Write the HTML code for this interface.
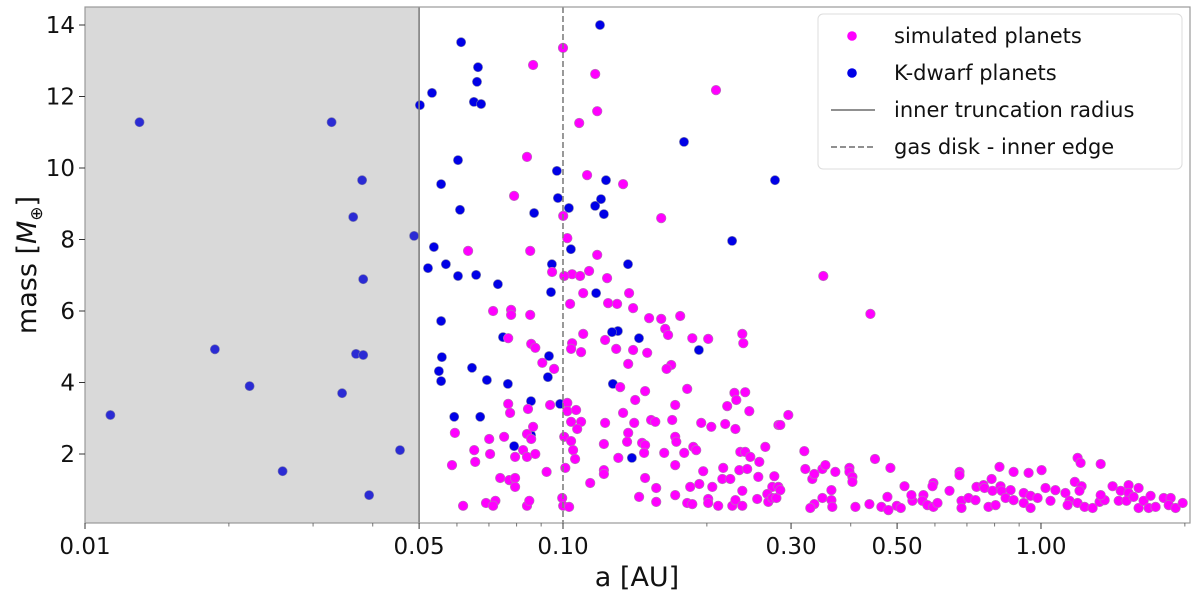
<!DOCTYPE html>
<html><head><meta charset="utf-8">
<style>
html,body{margin:0;padding:0;background:#fff;}
svg{display:block;font-family:"DejaVu Sans","Liberation Sans",sans-serif;}
</style></head>
<body>
<svg id="chart" width="1200" height="599" viewBox="0 0 1200 599" xmlns="http://www.w3.org/2000/svg"></svg>
<script>
const simA = [0.100,0.0866,0.1168,0.209,0.1179,0.1081,0.0841,0.1123,0.1336,0.0790,0.1001,0.1605,0.1021,0.0633,0.0854,0.1179,0.0949,0.1045,0.1086,0.1006,0.1134,0.1237,0.3505,0.4397,0.1102,0.1375,0.1035,0.1243,0.1298,0.1402,0.0714,0.0779,0.0779,0.0854,0.1514,0.1605,0.1759,0.1636,0.1659,0.2372,0.2383,0.1102,0.1045,0.1040,0.1091,0.1225,0.1292,0.1402,0.1500,0.1864,0.2013,0.0768,0.0858,0.0875,0.0905,0.0958,0.1369,0.1684,0.1647,0.1317,0.1485,0.1819,0.2283,0.2405,0.2304,0.1416,0.2206,0.2453,0.2960,0.0768,0.0775,0.0845,0.0940,0.1021,0.1021,0.1065,0.1336,0.1717,0.1040,0.1091,0.1071,0.1225,0.1409,0.1529,0.1560,0.1692,0.1946,0.2043,0.2185,0.2294,0.2822,0.0594,0.0866,0.0841,0.0858,0.1006,0.1040,0.0701,0.0753,0.1369,0.1362,0.1218,0.1464,0.1485,0.1478,0.1717,0.1726,0.1873,0.1900,0.1793,0.1628,0.0652,0.0655,0.0704,0.0794,0.0825,0.0841,0.0875,0.1050,0.1060,0.1305,0.2349,0.2405,0.2465,0.2574,0.2650,0.0586,0.1011,0.0924,0.1218,0.1218,0.1717,0.1965,0.2164,0.2338,0.2429,0.2562,0.2768,0.2741,0.2822,0.0739,0.0772,0.0794,0.0794,0.1140,0.1485,0.1567,0.1846,0.1928,0.2053,0.2154,0.2239,0.2372,0.0618,0.0690,0.0722,0.0714,0.0841,0.0850,0.0996,0.1001,0.1030,0.1443,0.1567,0.1717,0.1819,0.1864,0.2013,0.2013,0.2112,0.2261,0.2294,0.2372,0.2549,0.2676,0.2689,0.2742,0.2795,0.2849,0.2849,0.3198,0.3213,0.3324,0.3356,0.3489,0.3540,0.3713,0.3973,0.3973,0.4031,0.4031,0.3643,0.3489,0.3356,0.3292,0.3643,0.3660,0.4090,0.4376,0.4495,0.4842,0.5181,0.4637,0.4796,0.4993,0.5091,0.4773,0.5383,0.5357,0.5676,0.5649,0.5787,0.5957,0.6073,0.5957,0.5929,0.6436,0.6753,0.6753,0.6819,0.6819,0.7053,0.7295,0.7331,0.7583,0.7619,0.7881,0.8190,0.8763,0.9421,1.003,0.7919,0.8230,0.8270,0.8431,0.8637,0.8763,0.7767,0.8035,0.9201,0.9512,0.9201,0.9512,0.9836,1.022,1.072,1.125,1.148,1.047,1.193,1.210,1.177,1.216,1.204,1.137,1.193,1.234,1.282,1.326,1.359,1.333,1.333,1.412,1.468,1.525,1.600,1.525,1.454,1.510,1.562,1.600,1.639,1.696,1.680,1.737,1.806,1.868,1.850,1.913,1.979];
const simM = [13.36,12.88,12.63,12.18,11.59,11.26,10.31,9.80,9.55,9.22,8.66,8.60,8.04,7.68,7.68,7.57,7.09,7.03,6.98,6.98,7.12,6.92,6.98,5.92,6.50,6.50,6.20,6.22,6.20,6.08,6.00,6.03,5.89,5.89,5.80,5.78,5.86,5.50,5.33,5.36,5.10,5.36,5.10,4.94,4.85,5.19,4.94,4.91,4.83,5.24,5.22,5.24,5.08,4.97,4.55,4.38,4.52,4.49,4.38,3.87,3.76,3.82,3.71,3.73,3.51,3.51,3.34,3.20,3.09,3.40,3.15,3.26,3.37,3.43,3.20,3.23,3.15,3.37,2.90,2.90,2.70,2.87,2.87,2.95,2.90,2.95,2.87,2.76,2.84,2.70,2.81,2.59,2.76,2.56,2.42,2.48,2.36,2.42,2.48,2.59,2.34,2.28,2.31,2.25,2.03,2.48,2.34,2.20,2.11,2.03,2.03,2.11,1.78,2.00,1.92,2.11,1.92,2.00,2.11,1.86,1.89,2.06,2.06,1.92,1.78,2.20,1.69,1.61,1.50,1.55,1.44,1.69,1.52,1.61,1.55,1.58,1.36,1.38,1.08,1.08,1.33,1.27,1.33,1.08,1.19,1.33,1.05,1.08,1.16,1.08,1.30,1.30,0.97,0.55,0.63,0.69,0.55,0.55,0.69,0.77,0.55,0.52,0.80,0.66,0.85,0.63,0.60,0.74,0.63,0.55,0.55,0.71,0.55,0.74,0.88,0.66,0.77,0.77,2.81,0.99,2.08,1.58,1.30,1.44,1.58,1.69,1.50,1.61,1.50,1.36,1.22,0.99,0.77,0.60,0.49,0.71,0.52,0.52,0.60,1.86,1.61,1.10,0.52,0.43,0.55,0.49,0.80,0.69,0.85,0.85,0.69,0.57,0.52,0.63,1.19,1.10,0.97,1.50,1.41,0.69,0.49,0.77,0.71,1.08,1.13,1.05,1.30,1.64,1.50,1.47,1.55,0.97,1.10,0.97,0.77,0.99,0.71,0.52,0.57,0.91,0.83,0.63,0.49,0.77,1.05,0.99,0.91,0.69,0.69,1.89,1.75,1.22,1.10,0.97,0.57,0.63,0.52,0.49,0.66,0.71,0.85,1.72,1.10,0.97,1.13,1.05,0.91,0.69,0.69,0.80,0.49,0.69,0.83,0.49,0.52,0.77,0.77,0.57,0.49,0.63];
const kA = [0.0113,0.0130,0.0187,0.0221,0.0259,0.0328,0.0345,0.0364,0.0369,0.0380,0.0382,0.0382,0.0393,0.0456,0.0488,0.0502,0.0532,0.0612,0.0664,0.0661,0.0651,0.0674,0.1195,0.0556,0.0603,0.0609,0.0537,0.0522,0.0569,0.0603,0.0658,0.0731,0.0870,0.0976,0.0971,0.1029,0.1039,0.0948,0.0944,0.1201,0.1167,0.1230,0.1218,0.1173,0.1368,0.1791,0.2258,0.2777,0.0556,0.0558,0.0550,0.0556,0.0645,0.0693,0.0767,0.0857,0.0592,0.0671,0.0930,0.0935,0.0986,0.0857,0.0790,0.1303,0.1272,0.1394,0.1442,0.1925,0.0749,0.1266];
const kM = [3.09,11.28,4.93,3.90,1.52,11.28,3.70,8.63,4.80,9.66,6.89,4.77,0.85,2.11,8.10,11.76,12.10,13.52,12.82,12.41,11.85,11.79,14.0,9.55,10.22,8.83,7.79,7.20,7.31,6.98,7.01,6.75,8.74,9.16,9.92,8.88,7.73,7.31,6.53,9.13,8.94,9.66,8.71,6.50,7.31,10.73,7.96,9.66,5.72,4.71,4.32,4.04,4.41,4.07,3.96,3.48,3.04,3.04,4.15,4.74,3.40,2.53,2.22,5.44,3.96,1.89,5.24,4.91,5.27,5.41];
const yTicks = [2,4,6,8,10,12,14];
const xTickVals = [0.01,0.05,0.10,0.30,0.50,1.00];
const xTickLabels = ["0.01","0.05","0.10","0.30","0.50","1.00"];
const xMinor = [0.02,0.03,0.04,0.06,0.07,0.08,0.09,0.2,0.4,0.6,0.7,0.8,0.9,2.0];
const innerTrunc = 0.05, gasEdge = 0.10;

const L=85, R=1190, T=7, B=523;
const X0=0.01, XMAX=2.05, Y0=0.0;
function xs(a){return L+(Math.log10(a)-Math.log10(X0))/(Math.log10(XMAX)-Math.log10(X0))*(R-L);}
function ys(m){return 525.5-(m-Y0)*35.75;}

const svg=document.getElementById('chart');
const NS='http://www.w3.org/2000/svg';
function mk(tag,attrs,parent){const e=document.createElementNS(NS,tag);for(const k in attrs)e.setAttribute(k,attrs[k]);(parent||svg).appendChild(e);return e;}

// shaded region first
const sh=mk('rect',{x:L,y:T,width:(xs(innerTrunc)-L).toFixed(1),height:B-T,fill:'#d9d9d9'});



const kG=mk('g',{});


for(let i=0;i<kA.length;i++){
  const inShade=kA[i]<innerTrunc;
  const c=mk('circle',{cx:xs(kA[i]).toFixed(1),cy:ys(kM[i]).toFixed(1),r:4.6,fill:inShade?'#2b2bd4':'#0000e6',stroke:'#7777aa','stroke-width':0.6},kG);
  
  
}

const sG=mk('g',{});


for(let i=0;i<simA.length;i++){
  const c=mk('circle',{cx:xs(simA[i]).toFixed(1),cy:ys(simM[i]).toFixed(1),r:4.8,fill:'#ff00ff',stroke:'#b080b0','stroke-width':0.6},sG);
  
  
}
const l1=mk('line',{x1:xs(innerTrunc),x2:xs(innerTrunc),y1:T,y2:B,stroke:'#808080','stroke-width':1.6});


const l2=mk('line',{x1:xs(gasEdge),x2:xs(gasEdge),y1:T,y2:B,stroke:'#808080','stroke-width':1.6,'stroke-dasharray':'6,3'});



const fr=mk('rect',{x:L,y:T,width:R-L,height:B-T,fill:'none',stroke:'#999','stroke-width':1.2});



for(const v of yTicks){
  const y=ys(v);
  const t=mk('line',{x1:L-6,x2:L,y1:y,y2:y,stroke:'#333','stroke-width':1});
  
  
  const tx=mk('text',{x:L-10,y:y+8,'text-anchor':'end','font-size':23,fill:'#111'});
  tx.textContent=v;
  
  
}
for(let i=0;i<xTickVals.length;i++){
  const x=xs(xTickVals[i]);
  const t=mk('line',{x1:x,x2:x,y1:B,y2:B+6,stroke:'#333','stroke-width':1});
  
  
  const tx=mk('text',{x:x,y:B+31,'text-anchor':'middle','font-size':23,fill:'#111'});
  tx.textContent=xTickLabels[i];
  
  
}
for(const v of xMinor){
  const x=xs(v);
  const t=mk('line',{x1:x,x2:x,y1:B,y2:B+3.5,stroke:'#555','stroke-width':0.8});
  
  
}
const xt=mk('text',{x:637,y:586,'text-anchor':'middle','font-size':27,fill:'#111'});
xt.textContent='a [AU]';


const yt=mk('text',{x:0,y:0,'text-anchor':'middle','font-size':27,fill:'#111',transform:'translate(36,265) rotate(-90)'});


yt.innerHTML='mass [<tspan font-style="italic">M</tspan><tspan font-size="17" dy="6">⊕</tspan><tspan dy="-6">]</tspan>';

const lg=mk('g',{});


mk('rect',{x:818,y:14,width:364,height:155,rx:5,fill:'#fff','fill-opacity':0.85,stroke:'#ddd','stroke-width':1},lg);
const entries=[['dot','#ff00ff','simulated planets',36],['dot','#0000e6','K-dwarf planets',73],['line','','inner truncation radius',110],['dash','','gas disk - inner edge',147]];
for(const e of entries){
  const g=mk('g',{},lg);
  
  
  if(e[0]==='dot') mk('circle',{cx:852,cy:e[3],r:4.8,fill:e[1]},g);
  else mk('line',{x1:831,x2:875,y1:e[3],y2:e[3],stroke:'#808080','stroke-width':1.8,'stroke-dasharray':e[0]==='dash'?'6,3':'none'},g);
  const t=mk('text',{x:894,y:e[3]+7,'font-size':21,fill:'#111'},g);
  t.textContent=e[2];
}
</script>
</body></html>
